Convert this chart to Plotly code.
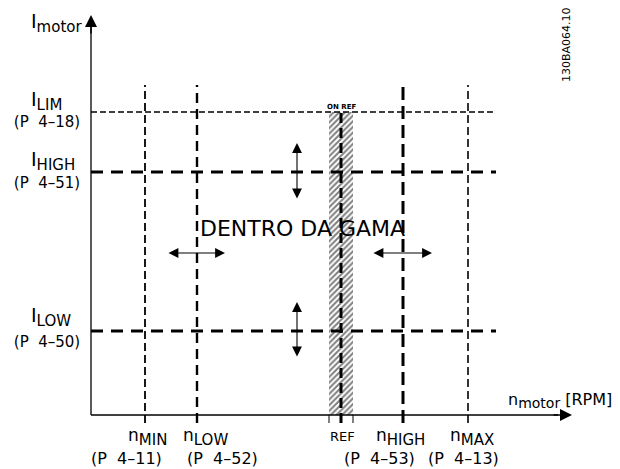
import plotly.graph_objects as go

# ---- data (schematic units: origin at axis crossing) ----
axis_x_end = 481
axis_y_end = 400

current_names = ["LIM", "HIGH", "LOW"]
current_params = ["(P  4–18)", "(P  4–51)", "(P  4–50)"]
current_levels = [303, 243, 84]

speed_names = ["MIN", "LOW", "HIGH", "MAX"]
speed_params = ["(P  4–11)", "(P  4–52)", "(P  4–53)", "(P  4–13)"]
speed_levels = [54, 106, 312, 377]

ref_speed = 250
ref_band_half = 12
line_top = 330      # top of vertical threshold lines
line_right = 405    # right end of horizontal threshold lines

FONT = "DejaVu Sans, sans-serif"

fig = go.Figure()

def line(xs, ys, width, dash):
    fig.add_trace(go.Scatter(x=xs, y=ys, mode="lines", hoverinfo="skip",
                             line=dict(color="black", width=width, dash=dash)))

# hatched on-reference band
fig.add_trace(go.Scatter(
    x=[ref_speed - ref_band_half, ref_speed + ref_band_half,
       ref_speed + ref_band_half, ref_speed - ref_band_half, ref_speed - ref_band_half],
    y=[0, 0, current_levels[0], current_levels[0], 0],
    mode="lines", line=dict(width=0, color="rgba(0,0,0,0)"), fill="toself",
    fillcolor="white",
    fillpattern=dict(shape="/", size=4, solidity=0.5, fgcolor="black", bgcolor="white"),
    hoverinfo="skip"))
# band edge ticks below axis
for dx in (-ref_band_half, ref_band_half):
    line([ref_speed + dx, ref_speed + dx], [0, -8], 1, "solid")

# horizontal current thresholds
h_styles = [(1.3, "6px,3px"), (3, "12px,8px"), (3, "12px,8px")]
for lvl, (w, d) in zip(current_levels, h_styles):
    line([0, line_right], [lvl, lvl], w, d)

# vertical speed thresholds
v_styles = [(1.8, "8px,4px"), (2.4, "10px,6px"), (3, "13px,6px"), (1.6, "8px,4px")]
for lvl, (w, d) in zip(speed_levels, v_styles):
    line([lvl, lvl], [-8, line_top], w, d)

# reference centre line
line([ref_speed, ref_speed], [-8, current_levels[0]], 3, "10px,5px")

# axes
line([0, 0], [0, axis_y_end - 12], 1.3, "solid")
line([0, axis_x_end - 14], [0, 0], 1.3, "solid")

# parameter labels of the current thresholds (as text trace)
param_y = [292, 231, 72]
fig.add_trace(go.Scatter(
    x=[-44] * len(current_params), y=param_y, mode="text", text=current_params,
    textposition="middle center", cliponaxis=False, hoverinfo="skip",
    textfont=dict(family=FONT, size=15, color="black")))

ann = []
# axis arrowheads
ann.append(dict(x=0, y=axis_y_end, ax=0, ay=axis_y_end - 20, xref="x", yref="y",
                axref="x", ayref="y", showarrow=True, arrowhead=2, arrowsize=1.6,
                arrowwidth=1.5, arrowcolor="black", text=""))
ann.append(dict(x=axis_x_end, y=0, ax=axis_x_end - 20, ay=0, xref="x", yref="y",
                axref="x", ayref="y", showarrow=True, arrowhead=2, arrowsize=1.6,
                arrowwidth=1.5, arrowcolor="black", text=""))

# double arrows
def darrow(x0, y0, x1, y1):
    ann.append(dict(x=x1, y=y1, ax=x0, ay=y0, xref="x", yref="y", axref="x", ayref="y",
                    showarrow=True, arrowhead=2, startarrowhead=2, arrowside="end+start",
                    arrowsize=1.8, startarrowsize=1.8, arrowwidth=1.1,
                    arrowcolor="black", text=""))

darrow(206, 215, 206, 272)
darrow(206, 57, 206, 113)
darrow(76, 162, 134, 162)
darrow(281, 162, 341, 162)

def txt(x, y, s, size=16, xanchor="left", **kw):
    ann.append(dict(x=x, y=y, xref="x", yref="y", text=s, showarrow=False,
                    xanchor=xanchor, yanchor="middle",
                    font=dict(family=FONT, size=size, color="black"), **kw))

SUB = "<span style='font-size:15px'>"
# y-axis labels
txt(-62, 392, "I<sub>" + SUB + "motor</span></sub>", size=19)
label_y = [314, 254, 98]
for name, ya in zip(current_names, label_y):
    txt(-62, ya, "I<sub>" + SUB + name + "</span></sub>", size=19)

# x-axis labels
name_x = [56, 114, 309, 381]
par_x = [35, 131, 288, 372]
for name, par, nx, px in zip(speed_names, speed_params, name_x, par_x):
    txt(nx, -22, "n<sub>" + SUB + name + "</span></sub>", size=17, xanchor="center")
    txt(px, -43, par, size=16, xanchor="center")
txt(ref_speed + 1, -21, "REF", size=13, xanchor="center")
SUB2 = "<span style='font-size:14px'>"
txt(469, 15, "n<sub>" + SUB2 + "motor</span></sub> [RPM]", size=16, xanchor="center")

# central texts
txt(211, 187, "DENTRO DA GAMA", size=22, xanchor="center")
txt(ref_speed, 308, "<b>ON REF</b>", size=7, xanchor="center")
txt(475, 370, "130BA064.10", size=11, xanchor="center", textangle=-90)

# page body has an 8px margin: size and ranges compensate for it
fig.update_layout(
    width=612, height=461, margin=dict(l=0, r=0, t=0, b=0),
    paper_bgcolor="white", plot_bgcolor="white", showlegend=False,
    xaxis=dict(range=[-83, 529], visible=False, fixedrange=True),
    yaxis=dict(range=[-54, 407], visible=False, fixedrange=True),
    annotations=ann,
)

fig.write_html("out.html")
